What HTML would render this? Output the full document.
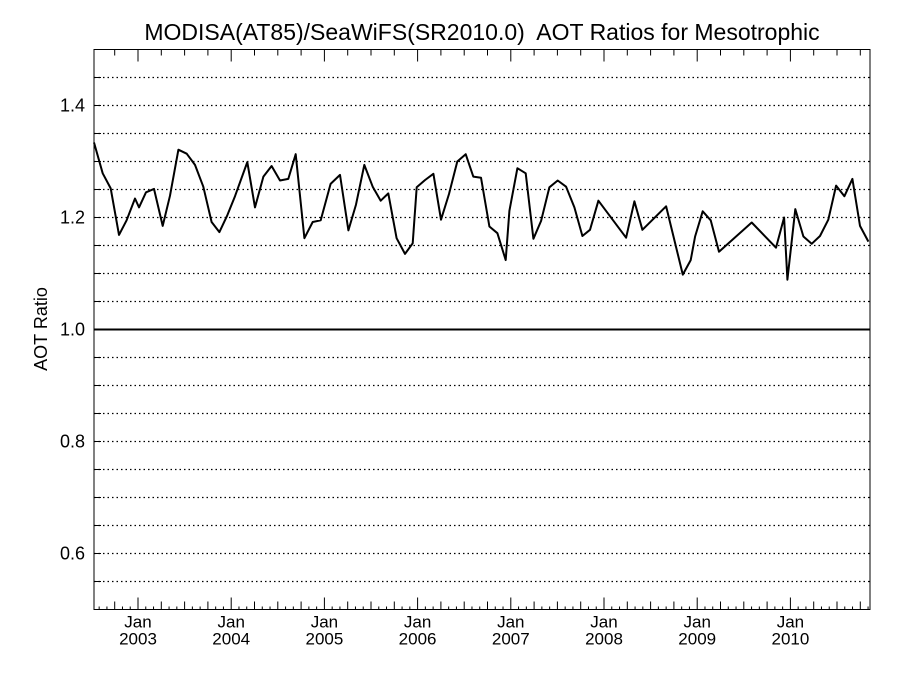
<!DOCTYPE html>
<html><head><meta charset="utf-8"><style>
body{margin:0;background:#fff;}
svg{display:block;font-family:"Liberation Sans",sans-serif;}
</style></head><body>
<svg id="chart" width="900" height="675" viewBox="0 0 900 675">
<text x="482" y="40" font-size="23" text-anchor="middle" style="white-space:pre">MODISA(AT85)/SeaWiFS(SR2010.0)  AOT Ratios for Mesotrophic</text>
<text transform="translate(47,329) rotate(-90)" font-size="18" text-anchor="middle">AOT Ratio</text>
<g id="grid"></g><g id="ticks"></g><g id="labels"></g>
<path id="line" fill="none" stroke="#000" stroke-width="2" stroke-linejoin="round"/>
<rect x="94" y="49.5" width="776" height="560" fill="none" stroke="#000" stroke-width="1"/>
</svg>
<script>
const years = [2002.528,2002.621,2002.707,2002.796,2002.878,2002.968,2003.011,2003.086,2003.172,2003.265,2003.343,2003.433,2003.522,2003.612,2003.701,2003.790,2003.873,2003.958,2004.041,2004.173,2004.255,2004.345,2004.434,2004.524,2004.613,2004.692,2004.785,2004.874,2004.960,2005.067,2005.167,2005.257,2005.339,2005.428,2005.518,2005.604,2005.686,2005.775,2005.865,2005.947,2005.990,2006.080,2006.169,2006.251,2006.337,2006.426,2006.516,2006.598,2006.680,2006.770,2006.856,2006.945,2006.985,2007.071,2007.160,2007.242,2007.325,2007.414,2007.503,2007.593,2007.682,2007.768,2007.850,2007.940,2008.237,2008.326,2008.412,2008.666,2008.845,2008.930,2008.977,2009.059,2009.145,2009.234,2009.585,2009.846,2009.932,2009.968,2010.053,2010.139,2010.229,2010.318,2010.407,2010.490,2010.579,2010.665,2010.747,2010.837];
const ratios = [1.334,1.279,1.252,1.169,1.195,1.234,1.218,1.245,1.251,1.185,1.239,1.321,1.314,1.294,1.255,1.192,1.174,1.204,1.238,1.299,1.218,1.273,1.292,1.266,1.269,1.313,1.163,1.192,1.195,1.260,1.276,1.177,1.223,1.294,1.255,1.230,1.243,1.163,1.135,1.154,1.254,1.267,1.278,1.196,1.242,1.300,1.313,1.273,1.271,1.184,1.172,1.124,1.212,1.288,1.279,1.162,1.194,1.254,1.266,1.255,1.218,1.167,1.178,1.230,1.164,1.229,1.178,1.220,1.098,1.124,1.166,1.211,1.195,1.139,1.191,1.146,1.200,1.089,1.215,1.166,1.153,1.167,1.196,1.257,1.238,1.269,1.185,1.157];
const yTickLabels = ["0.6","0.8","1.0","1.2","1.4"];
const xTickYears = [2003,2004,2005,2006,2007,2008,2009,2010];

const L=94,R=870,T=49.5,B=609.5;
const xS=y=>138+(y-2003)*93.2;
const yS=v=>B-(v-0.5)*560;
const NS="http://www.w3.org/2000/svg";
function mk(tag,attrs,parent){const e=document.createElementNS(NS,tag);for(const k in attrs)e.setAttribute(k,attrs[k]);parent.appendChild(e);return e;}
const grid=document.getElementById('grid'),ticks=document.getElementById('ticks'),labels=document.getElementById('labels');
for(let i=1;i<20;i++){const v=0.5+i*0.05;const y=yS(v);const solid=Math.abs(v-1)<1e-6;
 const g=mk('line',{x1:L,x2:R,y1:y,y2:y,stroke:'#000','stroke-width':solid?2:1.3,'stroke-dasharray':solid?'':'1.5 3'},grid);
 
 
 const t=mk('line',{x1:L,x2:L+7,y1:y,y2:y,stroke:'#000'},ticks);
 
 
}
yTickLabels.forEach(s=>{const y=yS(parseFloat(s));
 const t=mk('text',{x:L-9,y:y+6,'font-size':18,'text-anchor':'end'},labels);t.textContent=s;
 
 
});
for(let m=-5;m<=94;m++){const yr=2003+m/12;const x=xS(yr);if(x<L||x>R)continue;
 const mm=((m%12)+12)%12;const maj=(mm===0);const q=(mm%3===0);
 const len=maj?12:(q?8:3);
 const t1=mk('line',{x1:x,x2:x,y1:B,y2:B-len,stroke:'#000'},ticks);
 
 
 if(q){
 const t2=mk('line',{x1:x,x2:x,y1:T,y2:T+(maj?12:6),stroke:'#000'},ticks);
 
 
 }
}
xTickYears.forEach(yr=>{const x=xS(yr);
 const a=mk('text',{x:x,y:B+18,'font-size':17,'text-anchor':'middle'},labels);a.textContent='Jan';
 
 
 const b=mk('text',{x:x,y:B+35,'font-size':17,'text-anchor':'middle'},labels);b.textContent=String(yr);
 
 
});
document.getElementById('line').setAttribute('d',years.map((yr,i)=>(i?'L':'M')+xS(yr).toFixed(1)+','+yS(ratios[i]).toFixed(1)).join(''));
</script>
</body></html>
